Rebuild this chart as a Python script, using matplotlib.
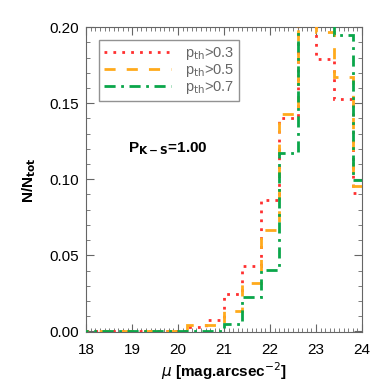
import numpy as np
import matplotlib
matplotlib.use('Agg')
import matplotlib.pyplot as plt

# bin edges of the histograms (mag/arcsec^2)
edges = np.arange(17.8, 24.21, 0.4)

# fraction of galaxies per bin for each probability threshold
red_vals    = [0, 0, 0, 0, 0, 0, 0.003, 0.0077, 0.0248, 0.043, 0.0866, 0.140, 0.240, 0.179, 0.1526, 0.091]
orange_vals = [0, 0, 0, 0, 0, 0, 0.004, 0.004, 0.0132, 0.032, 0.0664, 0.143, 0.230, 0.1965, 0.167, 0.0956]
green_vals  = [0, 0, 0, 0, 0, 0, 0, 0, 0.005, 0.0226, 0.0406, 0.117, 0.250, 0.220, 0.195, 0.0993]

labels = [r'p$_{\rm th}$>0.3', r'p$_{\rm th}$>0.5', r'p$_{\rm th}$>0.7']
pks = r'P$_{\mathbf{K-S}}$=1.00'

plt.rcParams['font.family'] = ['Liberation Sans', 'DejaVu Sans']

fig = plt.figure(figsize=(3.88, 3.88), dpi=100)
ax = fig.add_axes([0.222, 0.144, 0.711, 0.786])

ax.stairs(red_vals, edges, baseline=None, color='#ff3030', lw=2,
          linestyle=(0, (1, 2.2)), label=labels[0], zorder=3)
ax.stairs(orange_vals, edges, baseline=None, color='#ffaa1c', lw=2,
          linestyle=(0, (4, 4)), label=labels[1], zorder=3)
ax.stairs(green_vals, edges, baseline=None, color='#0aa64a', lw=2,
          linestyle=(0, (4, 2, 1, 2)), label=labels[2], zorder=3)

ax.set_xlim(18, 24)
ax.set_ylim(-0.0005, 0.2)
ax.set_xticks(np.arange(18, 24.1, 1))
ax.set_xticks(np.arange(18, 24.01, 0.1), minor=True)
ax.set_yticks(np.arange(0, 0.201, 0.05))
ax.set_yticks(np.arange(0, 0.201, 0.01), minor=True)
ax.set_yticklabels(['%.2f' % v for v in np.arange(0, 0.201, 0.05)])
ax.tick_params(which='both', direction='in', top=True, right=True,
               color='#666666', labelsize=11)
ax.tick_params(axis='x', pad=8)
ax.tick_params(axis='y', pad=5)
ax.tick_params(which='major', length=6)
ax.tick_params(which='minor', length=3)
for s in ax.spines.values():
    s.set_color('#666666')

ax.set_xlabel(r'$\mu$ [mag.arcsec$^{-2}$]', fontsize=11, fontweight='bold',
              labelpad=2)
ax.set_ylabel(r'N/N$_{\mathbf{tot}}$', fontsize=11, fontweight='bold',
              labelpad=8)

ax.text(0.152, 0.6, pks, transform=ax.transAxes, fontsize=11,
        fontweight='bold', va='center')

leg = ax.legend(loc='upper left', fontsize=10.5, frameon=True, fancybox=False,
                edgecolor='#777777', handlelength=4.6, borderaxespad=0.9,
                labelspacing=0.0, handletextpad=0.9, borderpad=0.35)
leg.get_frame().set_linewidth(1)
for t in leg.get_texts():
    t.set_color('#666666')

fig.savefig('out.png', dpi=100)
